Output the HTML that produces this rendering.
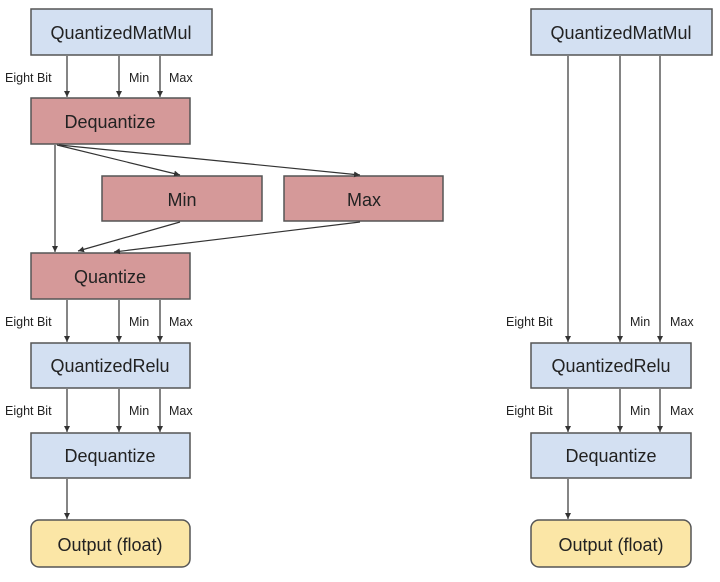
<!DOCTYPE html>
<html><head><style>
body{margin:0;background:#fff;width:720px;height:577px;overflow:hidden;font-family:"Liberation Sans",sans-serif;}
svg text{font-family:"Liberation Sans",sans-serif;}
</style></head><body>
<svg width="720" height="577" xmlns="http://www.w3.org/2000/svg">
<defs><marker id="a" markerWidth="8" markerHeight="8" refX="6" refY="3" orient="auto" markerUnits="userSpaceOnUse"><path d="M0,0 L6,3 L0,6z" fill="#333"/></marker></defs>
<g stroke="#555" stroke-width="1.5">
<rect x="31" y="9" width="181" height="46" fill="#d3e0f2"/>
<rect x="31" y="98" width="159" height="46" fill="#d59999"/>
<rect x="102" y="176" width="160" height="45" fill="#d59999"/>
<rect x="284" y="176" width="159" height="45" fill="#d59999"/>
<rect x="31" y="253" width="159" height="46" fill="#d59999"/>
<rect x="31" y="343" width="159" height="45" fill="#d3e0f2"/>
<rect x="31" y="433" width="159" height="45" fill="#d3e0f2"/>
<rect x="31" y="520" width="159" height="47" rx="8" fill="#fbe6a6"/>
<rect x="531" y="9" width="181" height="46" fill="#d3e0f2"/>
<rect x="531" y="343" width="160" height="45" fill="#d3e0f2"/>
<rect x="531" y="433" width="160" height="45" fill="#d3e0f2"/>
<rect x="531" y="520" width="160" height="47" rx="8" fill="#fbe6a6"/>
</g>
<g stroke="#333" stroke-width="1.2" marker-end="url(#a)">
<line x1="67" y1="56" x2="67" y2="97"/><line x1="119" y1="56" x2="119" y2="97"/><line x1="160" y1="56" x2="160" y2="97"/>
<line x1="55" y1="145" x2="55" y2="252"/>
<line x1="57" y1="145" x2="180" y2="175"/>
<line x1="59" y1="145" x2="360" y2="175"/>
<line x1="180" y1="222" x2="78" y2="251"/>
<line x1="360" y1="222" x2="114" y2="252"/>
<line x1="67" y1="300" x2="67" y2="342"/><line x1="119" y1="300" x2="119" y2="342"/><line x1="160" y1="300" x2="160" y2="342"/>
<line x1="67" y1="389" x2="67" y2="432"/><line x1="119" y1="389" x2="119" y2="432"/><line x1="160" y1="389" x2="160" y2="432"/>
<line x1="67" y1="479" x2="67" y2="519"/>
<line x1="568" y1="56" x2="568" y2="342"/><line x1="620" y1="56" x2="620" y2="342"/><line x1="660" y1="56" x2="660" y2="342"/>
<line x1="568" y1="389" x2="568" y2="432"/><line x1="620" y1="389" x2="620" y2="432"/><line x1="660" y1="389" x2="660" y2="432"/>
<line x1="568" y1="479" x2="568" y2="519"/>
</g>
<g fill="#222" font-size="18" text-anchor="middle">
<text x="121" y="39">QuantizedMatMul</text>
<text x="110" y="128">Dequantize</text>
<text x="182" y="206">Min</text>
<text x="364" y="206">Max</text>
<text x="110" y="283">Quantize</text>
<text x="110" y="372">QuantizedRelu</text>
<text x="110" y="462">Dequantize</text>
<text x="110" y="551">Output (float)</text>
<text x="621" y="39">QuantizedMatMul</text>
<text x="611" y="372">QuantizedRelu</text>
<text x="611" y="462">Dequantize</text>
<text x="611" y="551">Output (float)</text>
</g>
<g fill="#222" font-size="12.5">
<text x="5" y="82">Eight Bit</text><text x="129" y="82">Min</text><text x="169" y="82">Max</text>
<text x="5" y="326">Eight Bit</text><text x="129" y="326">Min</text><text x="169" y="326">Max</text>
<text x="5" y="415">Eight Bit</text><text x="129" y="415">Min</text><text x="169" y="415">Max</text>
<text x="506" y="326">Eight Bit</text><text x="630" y="326">Min</text><text x="670" y="326">Max</text>
<text x="506" y="415">Eight Bit</text><text x="630" y="415">Min</text><text x="670" y="415">Max</text>
</g>
</svg>
</body></html>
